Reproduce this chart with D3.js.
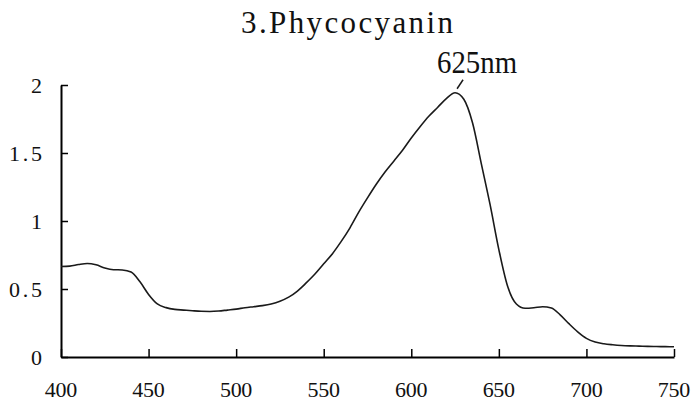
<!DOCTYPE html>
<html>
<head>
<meta charset="utf-8">
<script src="https://cdn.jsdelivr.net/npm/d3@7"></script>
<style>
  body { margin: 0; background: #fff; }
</style>
</head>
<body>
<script>
// wavelength (nm) and absorbance
var wavelength = d3.range(400, 751, 5);
var absorbance = [
  0.665, 0.668, 0.68, 0.688, 0.678, 0.655, 0.642, 0.64, 0.625, 0.555,
  0.46, 0.39, 0.363, 0.35, 0.345, 0.34, 0.336, 0.335, 0.338, 0.345,
  0.352, 0.362, 0.37, 0.378, 0.39, 0.41, 0.44, 0.485, 0.545, 0.61,
  0.685, 0.76, 0.85, 0.95, 1.065, 1.17, 1.27, 1.36, 1.44, 1.52,
  1.61, 1.693, 1.77, 1.835, 1.9, 1.943, 1.895, 1.72, 1.42, 1.12,
  0.79, 0.52, 0.39, 0.358, 0.362, 0.37, 0.36, 0.31, 0.245, 0.185,
  0.137, 0.11, 0.097, 0.09, 0.085, 0.082, 0.08, 0.078, 0.077, 0.076,
  0.075
];
var xTicks = [400, 450, 500, 550, 600, 650, 700, 750];
var yTicks = [0, 0.5, 1, 1.5, 2];
var title = "3.Phycocyanin";
var peakLabel = "625nm";
var peakNm = 625;

var font = "'Liberation Serif', 'DejaVu Serif', serif";
var width = 693, height = 405;
var svg = d3.select("body").append("svg")
    .attr("width", width)
    .attr("height", height);

var x = d3.scaleLinear().domain([400, 750]).range([61, 674]);
var y = d3.scaleLinear().domain([0, 2]).range([357, 85]);

// title
svg.append("text")
    .attr("x", 347)
    .attr("y", 33)
    .attr("text-anchor", "middle")
    .attr("font-family", font)
    .attr("font-size", 31)
    .attr("fill", "#111")
    .attr("textLength", 212)
    .attr("lengthAdjust", "spacing")
    .text(title);

// x axis (ticks point up into the plot)
var xAxis = svg.append("g")
    .attr("transform", "translate(0," + y(0) + ")")
    .call(d3.axisTop(x).tickValues(xTicks).tickSize(8).tickSizeOuter(0).tickFormat(""));
xAxis.select(".domain").attr("stroke-width", 2);
xAxis.selectAll(".tick line").attr("stroke-width", 1.5);

svg.append("g").selectAll("text")
    .data(xTicks)
    .join("text")
    .attr("x", d => x(d))
    .attr("y", 397)
    .attr("text-anchor", "middle")
    .attr("font-family", font)
    .attr("font-size", 22)
    .attr("fill", "#111")
    .attr("textLength", d => String(d).length * 10.8)
    .attr("lengthAdjust", "spacing")
    .text(d => d);

// y axis (ticks point right into the plot)
var yAxis = svg.append("g")
    .attr("transform", "translate(" + x(400) + ",0)")
    .call(d3.axisRight(y).tickValues(yTicks).tickSize(7).tickSizeOuter(0).tickFormat(""));
yAxis.select(".domain").attr("stroke-width", 2);
yAxis.selectAll(".tick line").attr("stroke-width", 1.5);

svg.append("g").selectAll("text")
    .data(yTicks)
    .join("text")
    .attr("x", 42)
    .attr("y", d => y(d) + 8)
    .attr("text-anchor", "end")
    .attr("font-family", font)
    .attr("font-size", 22)
    .attr("fill", "#111")
    .attr("textLength", d => String(d).length * 11)
    .attr("lengthAdjust", "spacing")
    .text(d => d);

// spectrum
var points = wavelength.map((w, i) => [w, absorbance[i]]);
var line = d3.line()
    .x(d => x(d[0]))
    .y(d => y(d[1]))
    .curve(d3.curveMonotoneX);

svg.append("path")
    .datum(points)
    .attr("d", line)
    .attr("fill", "none")
    .attr("stroke", "#1a1a1a")
    .attr("stroke-width", 1.6);

// peak annotation
var peakA = absorbance[wavelength.indexOf(peakNm)];
var px = x(peakNm), py = y(peakA);
svg.append("line")
    .attr("x1", px + 2).attr("y1", py - 4)
    .attr("x2", px + 8).attr("y2", py - 13)
    .attr("stroke", "#1a1a1a")
    .attr("stroke-width", 1.5);
svg.append("text")
    .attr("x", px + 22)
    .attr("y", py - 20)
    .attr("text-anchor", "middle")
    .attr("font-family", font)
    .attr("font-size", 31)
    .attr("fill", "#111")
    .attr("textLength", 80)
    .attr("lengthAdjust", "spacingAndGlyphs")
    .text(peakLabel);
</script>
</body>
</html>
